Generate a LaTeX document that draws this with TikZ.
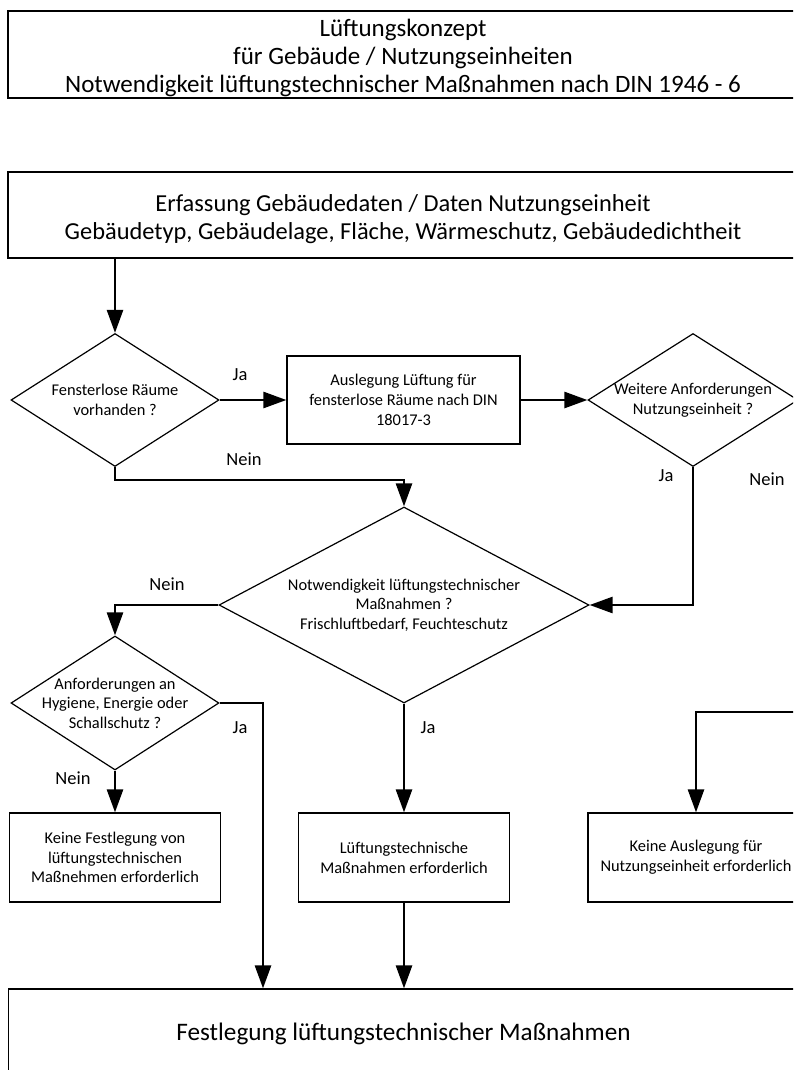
\documentclass[tikz,border=0pt]{standalone}
\usepackage{fontspec}
\setmainfont{Carlito}
\usetikzlibrary{arrows.meta,shapes.geometric}
\begin{document}
\begin{tikzpicture}[x=1pt,y=-1pt,
  box/.style={draw,line width=1.2pt,rectangle,inner sep=0pt,align=center},
  dia/.style={draw,line width=1.2pt,diamond,inner sep=0pt},
  small/.style={font=\fontsize{16.4}{19.8}\selectfont},
  dtext/.style={align=center,inner sep=0pt,font=\fontsize{16.4}{19.5}\selectfont},
  bigtext/.style={align=center,inner sep=0pt},
  lbl/.style={inner sep=0pt,font=\fontsize{18.5}{20}\selectfont},
  conn/.style={line width=2.6pt,-{Triangle[length=23pt,width=16pt]}}]
\clip (0,0) rectangle (793,1070);
% title
\node[box,minimum width=790pt,minimum height=87pt] (title) at (403,54.5) {};
\node[bigtext,font=\fontsize{25}{28}\selectfont] (titlet) at ([yshift=-3pt]title.center)
  {Lüftungskonzept\\für Gebäude / Nutzungseinheiten\\Notwendigkeit lüftungstechnischer Maßnahmen nach DIN 1946 - 6};
% data box
\node[box,minimum width=790pt,minimum height=86pt] (erf) at (403,215) {};
\node[bigtext,font=\fontsize{24.4}{28}\selectfont] (erft) at ([yshift=-4pt]erf.center)
  {Erfassung Gebäudedaten / Daten Nutzungseinheit\\Gebäudetyp, Gebäudelage, Fläche, Wärmeschutz, Gebäudedichtheit};
% diamonds
\node[dia,minimum width=208pt,minimum height=133pt] (d1) at (115,400) {};
\node[dtext] (d1t) at (d1.center) {Fensterlose Räume\\vorhanden ?};
\node[dia,minimum width=210pt,minimum height=133pt] (d3) at (693,400) {};
\node[dtext] (d3t) at (d3.center) {Weitere Anforderungen\\Nutzungseinheit ?};
\node[dia,minimum width=370pt,minimum height=196pt] (d4) at (404,605) {};
\node[dtext] (d4t) at (d4.center) {Notwendigkeit lüftungstechnischer\\Maßnahmen ?\\Frischluftbedarf, Feuchteschutz};
\node[dia,minimum width=208pt,minimum height=134pt] (d5) at (115,703) {};
\node[dtext] (d5t) at (d5.center) {Anforderungen an\\Hygiene, Energie oder\\Schallschutz ?};
% boxes
\node[box,small,minimum width=233pt,minimum height=88pt] (b1) at (403.5,400)
  {Auslegung Lüftung für\\fensterlose Räume nach DIN\\18017-3};
\node[box,small,minimum width=211pt,minimum height=89pt] (b2) at (115,857.5)
  {Keine Festlegung von\\lüftungstechnischen\\Maßnehmen erforderlich};
\node[box,small,minimum width=211pt,minimum height=89pt] (b3) at (404,857.5)
  {Lüftungstechnische\\Maßnahmen erforderlich};
\node[box,small,minimum width=216pt,minimum height=89pt] (b4) at (696,857.5)
  {Keine Auslegung für\\Nutzungseinheit erforderlich};
\node[box,minimum width=790pt,minimum height=87pt] (final) at (403.5,1032.5) {};
\node[bigtext,font=\fontsize{25.2}{29}\selectfont] (finalt) at ([yshift=-1.5pt]final.center)
  {Festlegung lüftungstechnischer Maßnahmen};
% helper coordinates
\coordinate (j5) at (263,0);
\coordinate (ext) at (800,712);
% connectors
\draw[conn] (d1.north |- erf.south) -- (d1.north);
\draw[conn] (d1.east) -- (b1.west);
\draw[conn] (b1.east) -- (d3.west);
\draw[conn] (d1.south) -- ++(0,13) -| (d4.north);
\draw[conn] (d3.south) |- (d4.east);
\draw[conn] (d4.west) -| (d5.north);
\draw[conn] (d5.east) -| (j5 |- final.north);
\draw[conn] (d5.south) -- (b2.north);
\draw[conn] (d4.south) -- (b3.north);
\draw[conn] (b3.south) -- (b3.south |- final.north);
\draw[conn] (ext) -| (b4.north);
% labels
\node[lbl] (l1) at (240,375) {Ja};
\node[lbl] (l2) at (244,459) {Nein};
\node[lbl] (l3) at (666,476) {Ja};
\node[lbl] (l4) at (767,479) {Nein};
\node[lbl] (l5) at (167,584) {Nein};
\node[lbl] (l6) at (240,728) {Ja};
\node[lbl] (l7) at (73,778) {Nein};
\node[lbl] (l8) at (428,728) {Ja};
\end{tikzpicture}
\end{document}
